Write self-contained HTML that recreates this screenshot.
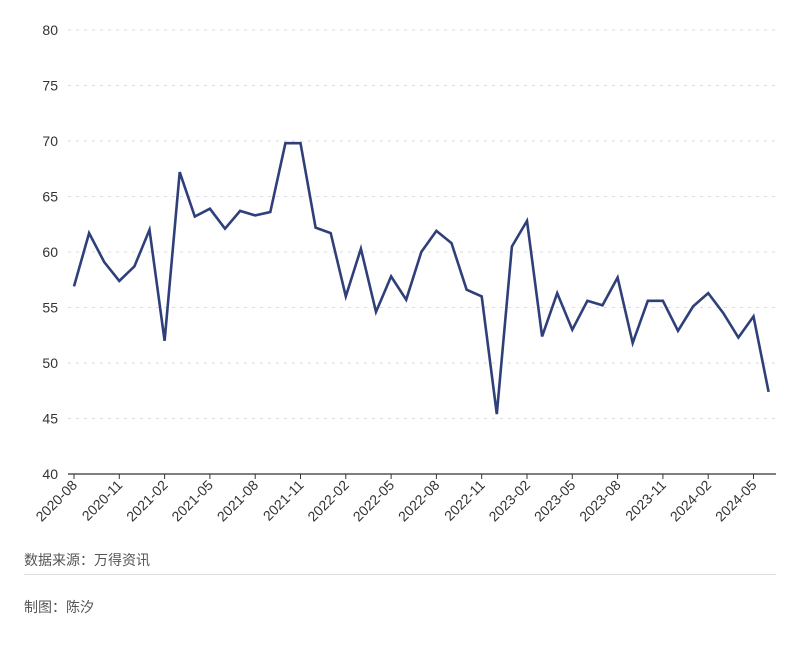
<!DOCTYPE html>
<html><head><meta charset="utf-8"><style>
body{margin:0;background:#fff;width:800px;height:647px;overflow:hidden;font-family:"Liberation Sans","Noto Sans CJK SC",sans-serif}
</style></head><body>
<svg id="chart" width="800" height="647" xmlns="http://www.w3.org/2000/svg">
<g id="grid"></g>
<g id="yaxis"></g>
<g id="xaxis"></g>
<path id="line" fill="none" stroke="#2f3f7a" stroke-width="2.6" stroke-linejoin="miter"/>
<text x="24" y="565" font-size="14" fill="#555" font-family="Liberation Sans, Noto Sans CJK SC, sans-serif">数据来源：万得资讯</text>
<line x1="24" y1="574.5" x2="776" y2="574.5" stroke="#ddd" stroke-width="1"/>
<text x="24" y="612" font-size="14" fill="#555" font-family="Liberation Sans, Noto Sans CJK SC, sans-serif">制图：陈汐</text>
</svg>
<script>
const values=[56.9,61.7,59.1,57.4,58.7,62.0,52.0,67.2,63.2,63.9,62.1,63.7,63.3,63.6,69.8,69.8,62.2,61.7,56.0,60.3,54.6,57.8,55.7,60.0,61.9,60.8,56.6,56.0,45.4,60.5,62.8,52.4,56.3,53.0,55.6,55.2,57.7,51.8,55.6,55.6,52.9,55.1,56.3,54.5,52.3,54.2,47.4];
const xLabels=["2020-08","2020-11","2021-02","2021-05","2021-08","2021-11","2022-02","2022-05","2022-08","2022-11","2023-02","2023-05","2023-08","2023-11","2024-02","2024-05"];
const yTicks=[40,45,50,55,60,65,70,75,80];
const NS="http://www.w3.org/2000/svg";
const x0=74,dx=15.1,yBase=474,yPer=11.1;
const X=i=>x0+i*dx, Y=v=>yBase-(v-40)*yPer;
const grid=document.getElementById('grid'),ya=document.getElementById('yaxis'),xa=document.getElementById('xaxis');
yTicks.forEach(t=>{
 if(t>40){const l=document.createElementNS(NS,'line');
 
 
 l.setAttribute('x1',68);l.setAttribute('x2',776);l.setAttribute('y1',Y(t));l.setAttribute('y2',Y(t));
 l.setAttribute('stroke','#d8dbe3');l.setAttribute('stroke-dasharray','3,5');grid.appendChild(l);}
 const tx=document.createElementNS(NS,'text');
 
 
 tx.setAttribute('x',58);tx.setAttribute('y',Y(t)+5);tx.setAttribute('text-anchor','end');
 tx.setAttribute('font-size','14');tx.setAttribute('fill','#333');tx.textContent=t;ya.appendChild(tx);
});
const ax=document.createElementNS(NS,'line');


ax.setAttribute('x1',68);ax.setAttribute('x2',776);ax.setAttribute('y1',474);ax.setAttribute('y2',474);
ax.setAttribute('stroke','#333');ax.setAttribute('stroke-width','1.2');xa.appendChild(ax);
xLabels.forEach((lab,k)=>{
 const x=X(k*3);
 const tk=document.createElementNS(NS,'line');
 
 
 tk.setAttribute('x1',x);tk.setAttribute('x2',x);tk.setAttribute('y1',474);tk.setAttribute('y2',479);tk.setAttribute('stroke','#333');xa.appendChild(tk);
 const tx=document.createElementNS(NS,'text');
 
 
 tx.setAttribute('transform',`translate(${x+4},${486}) rotate(-45)`);
 tx.setAttribute('text-anchor','end');tx.setAttribute('font-size','14');tx.setAttribute('fill','#333');
 tx.textContent=lab;xa.appendChild(tx);
});
document.getElementById('line').setAttribute('d',values.map((v,i)=>(i?'L':'M')+X(i).toFixed(1)+','+Y(v).toFixed(1)).join(''));
</script>
</body></html>
